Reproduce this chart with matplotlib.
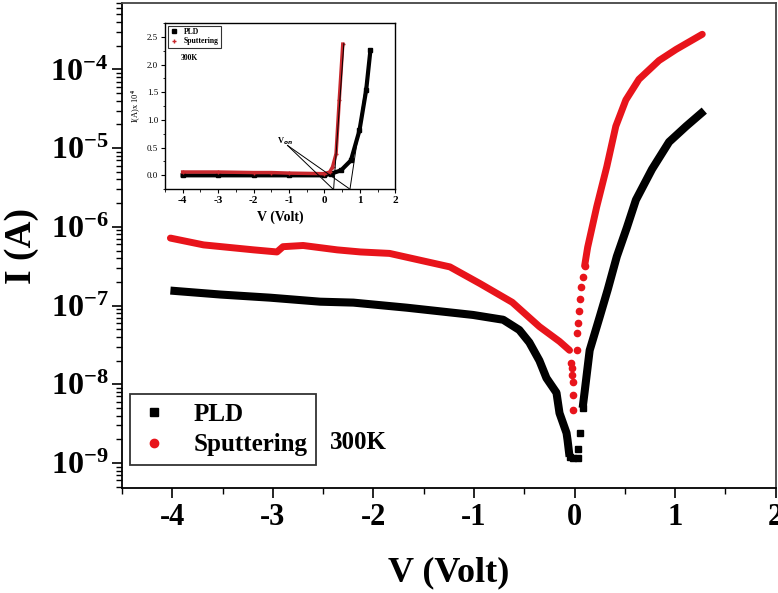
import math
import matplotlib
matplotlib.use("Agg")
import matplotlib.pyplot as plt
from matplotlib.ticker import FixedLocator, FuncFormatter, LogLocator, MultipleLocator, NullFormatter
from matplotlib.lines import Line2D

plt.rcParams['font.family'] = ['Liberation Serif', 'DejaVu Serif']
plt.rcParams['font.weight'] = 'bold'
plt.rcParams['mathtext.fontset'] = 'custom'
plt.rcParams['mathtext.rm'] = 'Liberation Serif'
plt.rcParams['mathtext.bf'] = 'Liberation Serif:bold'
plt.rcParams['axes.unicode_minus'] = False

# ---- main plot data ----
# PLD, reverse branch + forward branch
pld_rev_v = [-4.02, -3.52, -3.03, -2.53, -2.20, -1.67, -1.01, -0.71, -0.55, -0.45, -0.35, -0.28, -0.18, -0.15, -0.08, -0.07, -0.05]
pld_rev_i = [1.55e-7, 1.38e-7, 1.26e-7, 1.12e-7, 1.09e-7, 9.4e-8, 7.6e-8, 6.6e-8, 4.9e-8, 3.4e-8, 2.0e-8, 1.2e-8, 7.8e-9, 4.3e-9, 2.4e-9, 1.96e-9, 1.2e-9]
pld_dip_v = [-0.05, -0.02, 0.03, 0.03, 0.05, 0.08]
pld_dip_i = [1.2e-9, 1.15e-9, 1.15e-9, 1.5e-9, 2.4e-9, 5.0e-9]
pld_fwd_v = [0.08, 0.10, 0.15, 0.25, 0.33, 0.42, 0.52, 0.61, 0.77, 0.94, 1.11, 1.29]
pld_fwd_i = [5.0e-9, 8.0e-9, 2.7e-8, 7.2e-8, 1.6e-7, 4.2e-7, 9.8e-7, 2.2e-6, 5.4e-6, 1.2e-5, 1.9e-5, 3.0e-5]

# Sputtering
sput_rev_v = [-4.02, -3.69, -3.19, -2.96, -2.90, -2.70, -2.36, -2.13, -1.84, -1.24, -0.94, -0.62, -0.35, -0.15, -0.05]
sput_rev_i = [7.2e-7, 5.9e-7, 5.1e-7, 4.8e-7, 5.6e-7, 5.8e-7, 5.1e-7, 4.8e-7, 4.6e-7, 3.1e-7, 1.9e-7, 1.1e-7, 5.4e-8, 3.5e-8, 2.7e-8]
sput_dip_v = [-0.035, -0.025, -0.03, -0.02, -0.015, -0.02, 0.02, 0.025, 0.03, 0.04, 0.05, 0.065, 0.08, 0.10]
sput_dip_i = [1.85e-8, 1.6e-8, 1.3e-8, 1.07e-8, 7.4e-9, 4.7e-9, 2.7e-8, 4.5e-8, 6.0e-8, 8.5e-8, 1.2e-7, 1.7e-7, 2.3e-7, 3.2e-7]
sput_fwd_v = [0.10, 0.13, 0.22, 0.32, 0.41, 0.51, 0.64, 0.84, 1.01, 1.27]
sput_fwd_i = [3.2e-7, 5.5e-7, 1.8e-6, 5.8e-6, 1.9e-5, 4.1e-5, 7.5e-5, 1.3e-4, 1.8e-4, 2.8e-4]

x_ticks = [-4, -3, -2, -1, 0, 1, 2]

# ---- inset data (linear scale, I in units of 1e-4 A) ----
ins_pld_v = [-4.0, -3.0, -2.0, -1.0, 0.0, 0.19, 0.47, 0.75, 0.99, 1.18, 1.30]
ins_pld_i = [0.0, 0.0, 0.0, 0.0, 0.0, 0.03, 0.09, 0.27, 0.81, 1.54, 2.26]
ins_sput_v = [-4.0, -3.0, -2.0, -1.5, -1.0, 0.0, 0.15, 0.23, 0.33, 0.42, 0.52]
ins_sput_i = [0.06, 0.06, 0.05, 0.05, 0.04, 0.03, 0.06, 0.15, 0.39, 1.36, 2.37]
# tangent lines and V_on pointer lines
tan_sput = ([0.55, 0.26], [2.38, -0.26])
tan_pld = ([1.32, 0.72], [2.29, -0.26])
von_text = (-1.35, 0.58)
von_from = (-1.04, 0.54)
von_to = [(0.23, -0.24), (0.70, -0.24)]

red = '#e8141b'

fig = plt.figure(figsize=(7.78, 5.93), dpi=100)
ax = fig.add_axes([0.157, 0.177, 0.840, 0.818])

# thick trails of markers
ax.plot(pld_rev_v, pld_rev_i, '-', color='black', lw=5.8, solid_capstyle='butt')
ax.plot(pld_fwd_v, pld_fwd_i, '-', color='black', lw=5.8, solid_capstyle='butt')
ax.plot(pld_dip_v, pld_dip_i, 's', color='black', ms=4.5, ls='none')

ax.plot(sput_rev_v, sput_rev_i, '-', color=red, lw=5, solid_capstyle='round')
ax.plot(sput_fwd_v, sput_fwd_i, '-', color=red, lw=5, solid_capstyle='round')
ax.plot(sput_dip_v, sput_dip_i, 'o', color=red, ms=4.5, ls='none')

ax.set_yscale('log')
ax.set_xlim(-4.5, 2)
ax.set_ylim(4.8e-10, 7e-4)

ax.xaxis.set_major_locator(FixedLocator(x_ticks))
ax.xaxis.set_minor_locator(MultipleLocator(0.5))
ax.yaxis.set_major_locator(LogLocator(base=10, numticks=20))
ax.yaxis.set_minor_locator(LogLocator(base=10, subs=range(2, 10), numticks=20))
ax.yaxis.set_minor_formatter(NullFormatter())
ax.yaxis.set_major_formatter(FuncFormatter(
    lambda y, p: r'$\mathbf{10^{%d}}$' % round(math.log10(y))))

ax.tick_params(which='major', direction='out', length=7, width=1.2, labelsize=22)
ax.tick_params(which='minor', direction='out', length=4, width=1)
ax.tick_params(axis='y', which='major', labelsize=23, pad=3)
for lab in ax.get_xticklabels():
    lab.set_fontweight('bold')
for s in ax.spines.values():
    s.set_linewidth(1.3)
ax.spines['top'].set_color('#444444')
ax.spines['right'].set_color('#444444')

ax.set_xlabel('V (Volt)', fontsize=26, fontweight='bold', labelpad=18)
ax.set_ylabel('I (A)', fontsize=27, fontweight='bold', labelpad=8)

handles = [Line2D([], [], marker='s', color='black', ls='none', ms=6),
           Line2D([], [], marker='o', color=red, ls='none', ms=6)]
leg = ax.legend(handles, ['PLD', 'Sputtering'], loc='lower left',
                bbox_to_anchor=(0.012, 0.047), fontsize=18, frameon=True,
                fancybox=False, edgecolor='black', handlelength=1.2,
                handletextpad=1.0, borderpad=0.35, labelspacing=0.3,
                borderaxespad=0)
leg.get_frame().set_linewidth(1.3)
ax.text(0.318, 0.08, '300K', transform=ax.transAxes, fontsize=18, fontweight='bold')

# ---- inset ----
ins = fig.add_axes([0.212, 0.681, 0.296, 0.280])
ins.plot(ins_pld_v, ins_pld_i, '-', color='black', lw=3)
ins.plot(ins_pld_v, ins_pld_i, 's', color='black', ms=2.5)
ins.plot(ins_sput_v, ins_sput_i, '-', color='#c8282d', lw=2.5)
ins.plot(ins_sput_v, ins_sput_i, '+', color='#c8282d', ms=3)
ins.plot(tan_sput[0], tan_sput[1], color='black', lw=0.7)
ins.plot(tan_pld[0], tan_pld[1], color='black', lw=0.7)
for tx, ty in von_to:
    ins.plot([von_from[0], tx], [von_from[1], ty], color='black', lw=0.7)
ins.text(von_text[0], von_text[1], r'V$_{on}$', fontsize=6, fontweight='bold')

ins.set_xlim(-4.5, 2)
ins.set_ylim(-0.25, 2.75)
ins.xaxis.set_major_locator(FixedLocator(x_ticks))
ins.xaxis.set_minor_locator(MultipleLocator(0.5))
ins.yaxis.set_major_locator(MultipleLocator(0.5))
ins.yaxis.set_minor_locator(MultipleLocator(0.25))
ins.yaxis.set_major_formatter(FuncFormatter(lambda y, p: '%.1f' % y))
ins.tick_params(which='major', direction='out', length=3, width=0.8, pad=2)
ins.tick_params(which='minor', direction='out', length=1.8, width=0.6)
ins.tick_params(axis='x', labelsize=8)
ins.tick_params(axis='y', labelsize=6.5)
for lab in ins.get_yticklabels():
    lab.set_fontweight('normal')
for s in ins.spines.values():
    s.set_linewidth(1.0)
ins.set_xlabel('V (Volt)', fontsize=10, fontweight='bold', labelpad=4)
ins.set_ylabel(r'I(A)x 10$^{4}$', fontsize=6, fontweight='normal', labelpad=3)

ih = [Line2D([], [], marker='s', color='black', ls='none', ms=2.5),
      Line2D([], [], marker='+', color='#c8282d', ls='none', ms=3)]
il = ins.legend(ih, ['PLD', 'Sputtering'], loc='upper left', bbox_to_anchor=(0.012, 0.985),
                fontsize=5.5, frameon=True, fancybox=False, edgecolor='black',
                handlelength=1.0, handletextpad=0.8, borderpad=0.3, labelspacing=0.2,
                borderaxespad=0)
il.get_frame().set_linewidth(0.8)
ins.text(0.07, 0.78, '300K', transform=ins.transAxes, fontsize=5.5, fontweight='bold')

fig.savefig('out.png', dpi=100)
